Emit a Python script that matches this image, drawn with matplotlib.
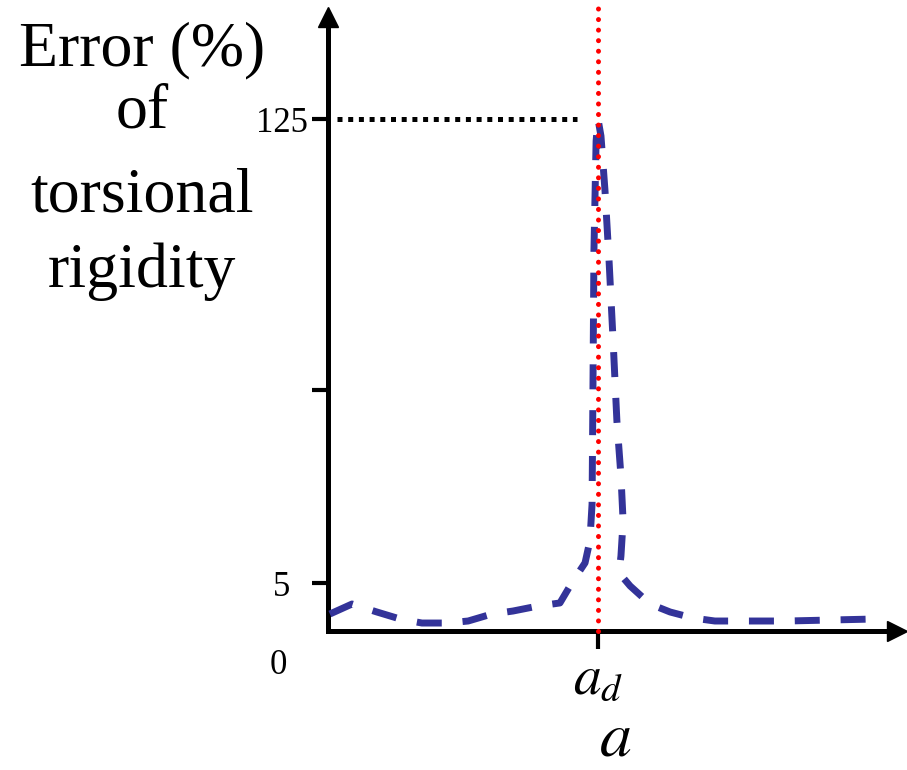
import numpy as np
import matplotlib
matplotlib.use("Agg")
import matplotlib.pyplot as plt

plt.rcParams["font.family"] = ["Liberation Serif", "DejaVu Serif"]
plt.rcParams["mathtext.fontset"] = "stix"

# ratio a / a_d along the horizontal axis
ratio = [0.007, 0.089, 0.181, 0.267, 0.348, 0.441, 0.519, 0.607, 0.685, 0.778,
         0.859, 0.907, 0.952, 0.970, 0.978, 0.981, 0.985, 0.993, 1.000, 1.011,
         1.026, 1.041, 1.056, 1.070, 1.085, 1.093, 1.085, 1.078, 1.119, 1.193,
         1.267, 1.352, 1.433, 1.526, 1.700, 1.870, 2.026]
# error in torsional rigidity, %
error = [1.77, 2.81, 1.98, 1.25, 0.83, 0.83, 1.04, 1.77, 2.08, 2.60,
         2.92, 5.5, 10.2, 15.9, 25.4, 52.1, 90.9, 119.3, 125.0, 120.6,
         106.4, 88.3, 67.6, 46.9, 32.7, 21.0, 12.0, 7.6, 4.69, 2.81,
         1.98, 1.35, 1.04, 1.04, 1.04, 1.15, 1.25]

peak_x = 1.0
peak_err = 125
y_ticks = [5, 55, 125]
y_ticklabels = ["5", "", "125"]

# stretched scale: 0..5 takes 48 units, 5..125 takes 464 units
def fwd(v):
    v = np.asarray(v, dtype=float)
    return np.where(v < 5, v * 9.6, 48 + (v - 5) * (464 / 120))

def inv(h):
    h = np.asarray(h, dtype=float)
    return np.where(h < 48, h / 9.6, 5 + (h - 48) * (120 / 464))

W, H = 907, 770
fig = plt.figure(figsize=(W / 100, H / 100), dpi=100)
ax = fig.add_axes([328 / W, (H - 631) / H, 569 / W, 614 / H])
ax.set_yscale("function", functions=(fwd, inv))
ax.set_xlim(0, 569 / 270)
ax.set_ylim(0, float(inv(614)))

ax.plot(ratio, error, color="#333399", lw=5, linestyle=(0, (3.6, 3.0)),
        dash_capstyle="butt", solid_joinstyle="round", zorder=3)

ax.axvline(peak_x, ymin=0, ymax=1.016, color="red", lw=3.6,
           linestyle=(0, (0.01, 2.1)), dash_capstyle="round",
           clip_on=False, zorder=4)
ax.plot([0.033, 0.922], [peak_err, peak_err], color="black", lw=3.6,
        linestyle=(0, (1.0, 1.14)), dash_capstyle="butt", zorder=2)

for s in ["top", "right"]:
    ax.spines[s].set_visible(False)
for s in ["left", "bottom"]:
    ax.spines[s].set_linewidth(3.6)
    ax.spines[s].set_capstyle("projecting")

# arrow heads
ax.plot([0], [1], marker="^", ms=14, color="black", transform=ax.transAxes,
        clip_on=False)
ax.plot([1], [0], marker=">", ms=14, color="black", transform=ax.transAxes,
        clip_on=False)

ax.set_yticks(y_ticks)
ax.set_yticklabels(y_ticklabels)
ax.tick_params(axis="y", direction="out", length=11.5, width=3, pad=22,
               labelsize=25)
for lbl in ax.get_yticklabels():
    lbl.set_horizontalalignment("center")

ax.set_xticks([peak_x])
ax.set_xticklabels([r"$a_d$"])
ax.tick_params(axis="x", direction="out", length=13, width=3, pad=3,
               labelsize=40)

ax.annotate("0", xy=(0, 0), xytext=(-50, -34), textcoords="offset pixels",
            ha="center", va="center", fontsize=25)

fig.text(615 / W, 0.5 / H, r"$a$", fontsize=46, ha="center", va="bottom")

for txt, base in [("Error (%)", 65), ("of", 128), ("torsional", 212),
                  ("rigidity", 287)]:
    fig.text(142 / W, (H - base) / H, txt, fontsize=46, ha="center",
             va="baseline")

fig.savefig("out.png", dpi=100)
